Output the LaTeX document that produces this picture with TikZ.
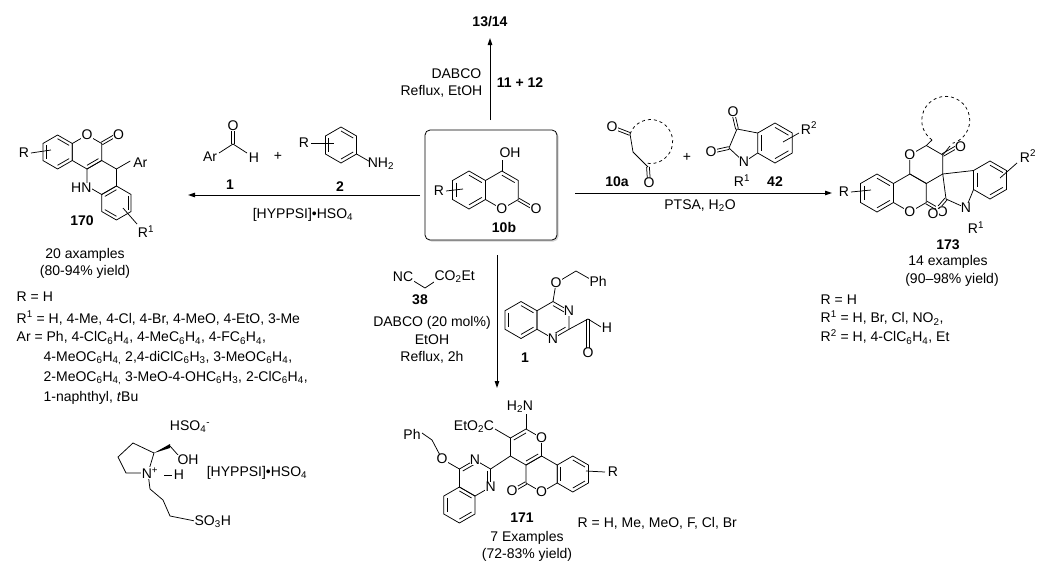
\documentclass[tikz,border=0pt]{standalone}
\usepackage{fontspec}
\setmainfont{Liberation Sans}
\usetikzlibrary{arrows.meta,calc,shadows}
\newcommand\lab{\fontsize{14}{16}\selectfont}
\newcommand\ssb[1]{\textsubscript{#1}}
\newcommand\ssp[1]{\textsuperscript{#1}}
\newcommand\hexv[4]{\path (#2,#3) coordinate (#1c) +(270:#4) coordinate (#1t) +(330:#4) coordinate (#1ur) +(30:#4) coordinate (#1lr) +(90:#4) coordinate (#1b) +(150:#4) coordinate (#1ll) +(210:#4) coordinate (#1ul);}
\newcommand\ringd[1]{\draw[bond] (#1t)--(#1ur)--(#1lr)--(#1b)--(#1ll)--(#1ul)--cycle;}
\newcommand\dbi[3]{\draw[bond] ($(#1)!0.22!(#3)$)--($(#2)!0.22!(#3)$);}
\newcommand\dbo[2]{\draw[bond] ($(#1)!1.4pt!90:(#2)$)--($(#2)!1.4pt!-90:(#1)$); \draw[bond] ($(#1)!1.4pt!-90:(#2)$)--($(#2)!1.4pt!90:(#1)$);}
\begin{document}
\begin{tikzpicture}[x=1pt,y=-1pt,
  every node/.style={font=\lab,inner sep=0.5pt},
  bond/.style={line width=0.75pt},
  atm/.style={fill=white,inner sep=0.4pt},
  rxn/.style={line width=1pt,-{Triangle[length=7pt,width=4.5pt]}},
  bld/.style={font=\lab\bfseries}]
\useasboundingbox (0,0) rectangle (1042,574);
\fill[white] (0,0) rectangle (1042,574);

% ---------- 10b in box ----------
\node[draw,rounded corners=5pt,line width=0.8pt,minimum width=132pt,minimum height=110pt,drop shadow={shadow xshift=1.5pt,shadow yshift=-1.5pt,fill=black!35}, fill=white] (box) at (491,185) {};
\hexv{A}{469}{190}{19}
\hexv{B}{501.9}{190}{19}
\ringd{A}\ringd{B}
\dbi{Aul}{All}{Ac}\dbi{At}{Aur}{Ac}\dbi{Alr}{Ab}{Ac}
\dbi{Bt}{Bur}{Bc}
\coordinate (ohc) at (501.9,160);
\draw[bond] (Bt)--(ohc);
\coordinate (coex) at ($(Blr)+(30:17)$);
\dbo{Blr}{coex}
\draw[bond] (446,191)--(463,189);
\node (R10b) at (439,191) {R};
\node[atm] (oh) at (510,153) {OH};
\node[atm] (o1) at (Bb) {O};
\node[atm] (o2) at ($(coex)+(3,1)$) {O};
\node[bld] (l10b) at (504,227) {10b};

% ---------- arrows ----------
\coordinate (up0) at (490,120); \coordinate (up1) at (490,38);
\draw[rxn] (up0)--(up1);
\node[bld] (p1314) at (490,22) {13/14};
\node[anchor=east] (dab) at (482,74) {DABCO};
\node[anchor=east] (ref) at (483,91) {Reflux, EtOH};
\node[bld] (r1112) at (520,83) {11 + 12};
\coordinate (l0) at (420,195); \coordinate (l1) at (188,195);
\draw[rxn] (l0)--(l1);
\node (hyp) at (303,215) {[HYPPSI]•HSO\ssb{4}};
\coordinate (r0) at (575,193); \coordinate (r1) at (832,193);
\draw[rxn] (r0)--(r1);
\node (ptsa) at (700,206) {PTSA, H\ssb{2}O};
\coordinate (d0) at (497,255); \coordinate (d1) at (497,388);
\draw[rxn] (d0)--(d1);

% ---------- reagents left arrow ----------
\coordinate (ac) at (233,144); \coordinate (ao) at (233,126);
\draw[bond] (219,153)--(ac)--(247,153);
\dbo{ac}{ao}
\node[atm] (ar1) at (210,157) {Ar};
\node[atm] (h1) at (254,158) {H};
\node[atm] (o1a) at (ao) {O};
\node[bld] (n1) at (230,185) {1};
\node (plus1) at (278,156) {+};
\hexv{N}{341}{145}{18}
\ringd{N}\dbi{Nul}{Nll}{Nc}\dbi{Nt}{Nur}{Nc}\dbi{Nlr}{Nb}{Nc}
\coordinate (nh) at ($(Nlr)+(30:15)$);
\draw[bond] (Nlr)--(nh);
\node[anchor=north west,inner sep=0pt] (nh2) at ($(nh)+(-2,-4)$) {NH\ssb{2}};
\draw[bond] (311,143)--(334,143);
\node (Ran) at (304,143) {R};
\node[bld] (n2) at (340,187) {2};

% ---------- 170 ----------
\hexv{P}{57.6}{152}{17}
\hexv{Q}{87}{152}{17}
\hexv{S}{101.7}{177.5}{17}
\hexv{T}{116.4}{203}{17}
\ringd{P}\ringd{Q}\ringd{S}\ringd{T}
\dbi{Pul}{Pll}{Pc}\dbi{Pt}{Pur}{Pc}\dbi{Plr}{Pb}{Pc}
\dbi{Qb}{Qlr}{Qc}
\dbi{Tur}{Tlr}{Tc}\dbi{Tb}{Tll}{Tc}\dbi{Tt}{Tul}{Tc}
\coordinate (qo) at ($(Qur)+(330:16)$);
\dbo{Qur}{qo}
\coordinate (arc1) at ($(Sur)+(330:16)$);
\draw[bond] (Sur)--(arc1);
\node[atm] (o170a) at (Qt) {O};
\node[atm] (o170b) at ($(qo)+(3,-1)$) {O};
\node[atm,anchor=east] (hn) at ($(Sll)+(5,2)$) {HN};
\node[atm] (ar170) at ($(arc1)+(10,2)$) {Ar};
\draw[bond] (31,153)--(51,150);
\node (R170) at (24,153) {R};
\draw[bond] (123,208)--(137,224);
\node (R1170) at (146,232) {R\ssp{1}};
\node[bld] (l170) at (82,221) {170};
\node (e170) at (85,255) {20 axamples};
\node (y170) at (85,272) {(80-94\% yield)};

\node[anchor=west] (t1) at (16,297) {R = H};
\node[anchor=west] (t2) at (16,318) {R\ssp{1} = H, 4-Me, 4-Cl, 4-Br, 4-MeO, 4-EtO, 3-Me};
\node[anchor=west] (t3) at (16,338) {Ar = Ph, 4-ClC\ssb{6}H\ssb{4}, 4-MeC\ssb{6}H\ssb{4}, 4-FC\ssb{6}H\ssb{4},};
\node[anchor=west] (t4) at (43,358) {4-MeOC\ssb{6}H\ssb{4,} 2,4-diClC\ssb{6}H\ssb{3}, 3-MeOC\ssb{6}H\ssb{4},};
\node[anchor=west] (t5) at (43,378) {2-MeOC\ssb{6}H\ssb{4,} 3-MeO-4-OHC\ssb{6}H\ssb{3}, 2-ClC\ssb{6}H\ssb{4},};
\node[anchor=west] (t6) at (43,398) {1-naphthyl, \textit{t}Bu};

% ---------- HYPPSI ----------
\coordinate (y1) at (133,443); \coordinate (y2) at (118,457); \coordinate (y3) at (126,473);
\coordinate (yN) at (148,473); \coordinate (y5) at (154,453);
\draw[bond] (yN)--(y5)--(y1)--(y2)--(y3)--(yN);
\fill (y5) -- (170,444) -- (170,448) -- cycle;
\draw[bond] (170,446)--(178,455);
\node[atm] (ohh) at (188,460) {OH};
\draw[bond] (yN)--(150,489)--(163,500)--(170,516)--(195,521);
\node[atm] (nplus) at ($(yN)+(2,0)$) {N\ssp{+}};
\draw[bond] (164,475)--(172,475);
\node (hh) at (179,475) {H};
\node[atm,anchor=west] (so3h) at (194,522) {SO\ssb{3}H};
\node (hso4) at (190,427) {HSO\ssb{4}\ssp{-}};
\node (hyp2) at (257,473) {[HYPPSI]•HSO\ssb{4}};

% ---------- 10a + 42 ----------
\coordinate (a1) at (630,134); \coordinate (a1o) at (612,127);
\coordinate (am) at (633,152); \coordinate (a2) at (648,167); \coordinate (a2o) at (649,183);
\dbo{a1}{a1o}
\draw[bond] (a1)--(am)--(a2);
\dbo{a2}{a2o}
\draw[bond,dashed] (a1) arc[start angle=160,end angle=-99,radius=22pt];
\node[atm] (o10a1) at (a1o) {O};
\node[atm] (o10a2) at (a2o) {O};
\node[bld] (l10a) at (617,182) {10a};
\node (plus2) at (687,157) {+};
\hexv{I}{775}{143}{20}
\ringd{I}\dbi{It}{Iur}{Ic}\dbi{Ilr}{Ib}{Ic}\dbi{Iul}{Ill}{Ic}
\coordinate (i3) at (737,129); \coordinate (i2) at (729,148); \coordinate (iN) at (744,162);
\draw[bond] (Iul)--(i3)--(i2)--(iN)--(Ill);
\coordinate (i3o) at (733,112); \coordinate (i2o) at (711,152);
\dbo{i3}{i3o}\dbo{i2}{i2o}
\node[atm] (o42a) at (i3o) {O};
\node[atm] (o42b) at (i2o) {O};
\node[atm] (n42) at (iN) {N};
\node (r142) at (742,181) {R\ssp{1}};
\draw[bond] (783,142)--(799,133);
\node (r242) at (809,128) {R\ssp{2}};
\node[bld] (l42) at (775,182) {42};

% ---------- 173 ----------
\hexv{E}{877}{193}{19}
\hexv{F}{909.9}{193}{19}
\hexv{G}{926.3}{164.5}{19}
\hexv{H}{990}{180}{19}
\ringd{E}\ringd{F}\ringd{G}\ringd{H}
\dbi{Eul}{Ell}{Ec}\dbi{Et}{Eur}{Ec}\dbi{Elr}{Eb}{Ec}
\dbi{Ht}{Hur}{Hc}\dbi{Hlr}{Hb}{Hc}\dbi{Hul}{Hll}{Hc}
\coordinate (fo) at ($(Flr)+(30:16)$);
\dbo{Flr}{fo}
\coordinate (go) at ($(Gur)+(330:17)$);
\dbo{Gur}{go}
\coordinate (cs) at (932,140); \coordinate (ce) at (950,146);
\draw[bond] (Gt)--(cs); \draw[bond] (Gur)--(ce);
\draw[bond,dashed] (cs) arc[start angle=235,end angle=-78,radius=24pt];
\coordinate (hN) at (966,208); \coordinate (h2) at (946,199);
\draw[bond] (Glr)--(Hul); \draw[bond] (Hll)--(hN)--(h2)--(Glr);
\coordinate (h2o) at (933,214);
\dbo{h2}{h2o}
\node[atm] (o173a) at (Fb) {O};
\node[atm] (o173b) at ($(fo)+(2,1)$) {O};
\node[atm] (o173c) at (Gul) {O};
\node[atm] (o173d) at ($(go)+(3,0)$) {O};
\node[atm] (o173e) at (h2o) {O};
\node[atm] (n173) at (hN) {N};
\node (r1173) at (976,228) {R\ssp{1}};
\draw[bond] (1000,178)--(1017,163);
\node (r2173) at (1028,156) {R\ssp{2}};
\draw[bond] (851,192)--(871,190);
\node (R173) at (844,192) {R};
\node[bld] (l173) at (948,245) {173};
\node (e173) at (948,262) {14 examples};
\node (y173) at (952,280) {(90–98\% yield)};
\node[anchor=west] (u1) at (820,300) {R = H};
\node[anchor=west] (u2) at (820,318) {R\ssp{1} = H, Br, Cl, NO\ssb{2},};
\node[anchor=west] (u3) at (820,337) {R\ssp{2} = H, 4-ClC\ssb{6}H\ssb{4}, Et};

% ---------- down reagents ----------
\draw[bond] (412,280)--(425,288)--(437,280);
\node[atm] (nc) at (403,277) {NC};
\node[atm,anchor=west] (co2et) at (434,277) {CO\ssb{2}Et};
\node[bld] (l38) at (420,300) {38};
\node (dab2) at (432,323) {DABCO (20 mol\%)};
\node (etoh) at (432,340) {EtOH};
\node (ref2) at (432,357) {Reflux, 2h};
\hexv{J}{521}{320}{18.5}
\hexv{K}{553}{320}{18.5}
\ringd{J}\ringd{K}
\dbi{Jul}{Jll}{Jc}\dbi{Jt}{Jur}{Jc}\dbi{Jlr}{Jb}{Jc}
\dbi{Kt}{Kur}{Kc}\dbi{Klr}{Kb}{Kc}
\coordinate (ko) at (556,283); \coordinate (kch) at (576,271);
\draw[bond] (Kt)--(ko)--(kch)--(590,279);
\coordinate (kc) at (588,319); \coordinate (kco) at (588,353);
\draw[bond] (Klr)--(kc)--(601,327);
\dbo{kc}{kco}
\node[atm] (ok) at (ko) {O};
\node[atm,anchor=west] (phk) at (589,281) {Ph};
\node[atm] (nk1) at (Kur) {N};
\node[atm] (nk2) at (Kb) {N};
\node[atm] (hk) at (607,328) {H};
\node[atm] (okk) at (kco) {O};
\node[bld] (l1b) at (525,358) {1};

% ---------- 171 ----------
\hexv{L}{475}{478}{18}
\hexv{M}{459.4}{505}{18}
\hexv{U}{526}{447}{18}
\hexv{V}{541.6}{474}{18}
\hexv{W}{572.8}{474}{18}
\ringd{L}\ringd{M}\ringd{U}\ringd{V}\ringd{W}
\dbi{Lt}{Lul}{Lc}\dbi{Lur}{Llr}{Lc}
\dbi{Mul}{Mll}{Mc}\dbi{Mb}{Mlr}{Mc}\dbi{Mt}{Mur}{Mc}
\dbi{Ut}{Uul}{Uc}\dbi{Ulr}{Ub}{Uc}
\dbi{Wt}{Wur}{Wc}\dbi{Wlr}{Wb}{Wc}\dbi{Wul}{Wll}{Wc}
\coordinate (lo) at (442,459); \coordinate (lch) at (432,440);
\draw[bond] (Lul)--(lo)--(lch)--(422,433);
\draw[bond] (Lur)--(Ull);
\coordinate (un) at (526,414);
\draw[bond] (Ut)--(un);
\coordinate (ue) at (495,429);
\draw[bond] (Uul)--(ue);
\coordinate (vo) at ($(Vll)+(150:16)$);
\dbo{Vll}{vo}
\node[atm] (lol) at (lo) {O};
\node[atm] (phl) at (412,434) {Ph};
\node[atm] (nl1) at (Lt) {N};
\node[atm] (nl2) at (Llr) {N};
\node[atm] (h2n) at (520,407) {H\ssb{2}N};
\node[atm] (eto) at (474,427) {EtO\ssb{2}C};
\node[atm] (ou) at (Uur) {O};
\node[atm] (ov) at (Vb) {O};
\node[atm] (ovo) at (vo) {O};
\draw[bond] (586,471)--(605,472);
\node (R171) at (613,472) {R};
\node[bld] (l171) at (522,518) {171};
\node[anchor=west] (rl171) at (577,523) {R = H, Me, MeO, F, Cl, Br};
\node (e171) at (527,538) {7 Examples};
\node (y171) at (527,555) {(72-83\% yield)};
\end{tikzpicture}
\end{document}
